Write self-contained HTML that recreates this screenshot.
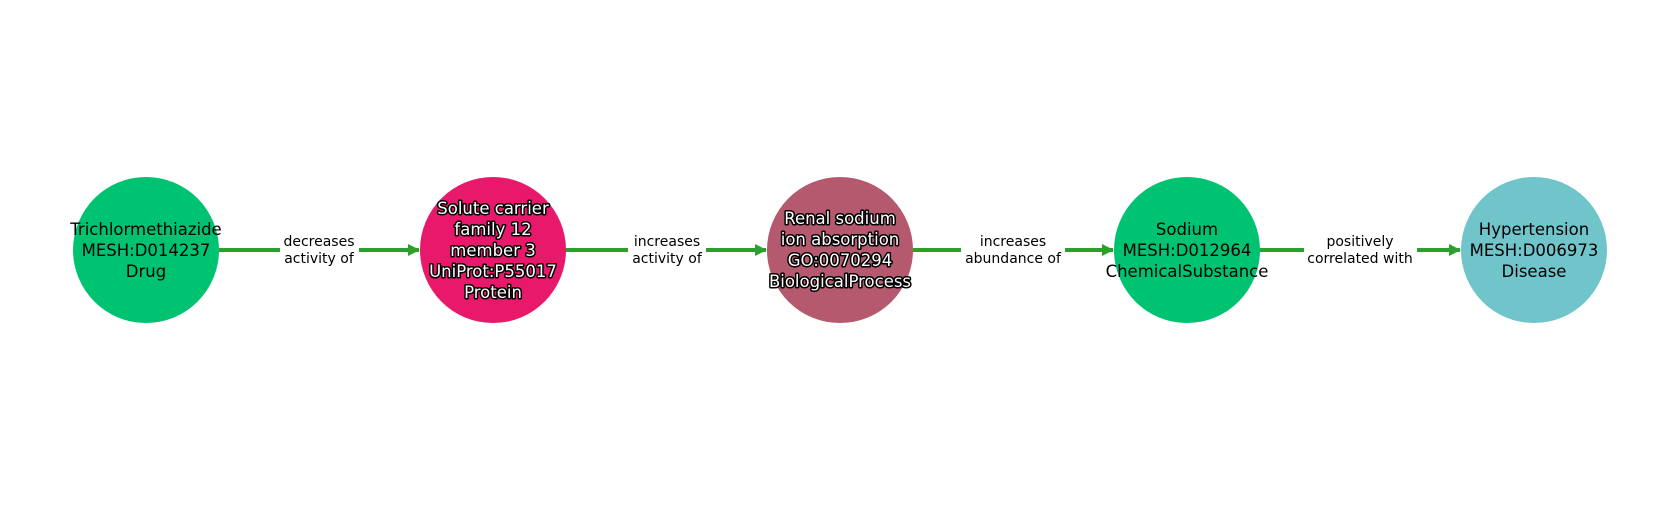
<!DOCTYPE html>
<html><head><meta charset="utf-8"><style>html,body{margin:0;padding:0;background:#fff}</style></head>
<body>
<svg width="1680" height="500" xmlns="http://www.w3.org/2000/svg" font-family="DejaVu Sans, sans-serif">
<defs><marker id="a" markerWidth="12" markerHeight="12" refX="11" refY="6" orient="auto" markerUnits="userSpaceOnUse"><path d="M0,0 L12,6 L0,12 z" fill="#2ca02c"/></marker></defs>
<g stroke="#2ca02c" stroke-width="4" marker-end="url(#a)">
<line x1="219" y1="250" x2="419" y2="250"/>
<line x1="566" y1="250" x2="766" y2="250"/>
<line x1="913" y1="250" x2="1113" y2="250"/>
<line x1="1260" y1="250" x2="1460" y2="250"/>
</g>
<g fill="#fff">
<rect x="280" y="232" width="79" height="36"/>
<rect x="628" y="232" width="78" height="36"/>
<rect x="961" y="232" width="104" height="36"/>
<rect x="1304" y="232" width="113" height="36"/>
</g>
<g font-size="14" text-anchor="middle" fill="#000">
<text x="319" y="246">decreases</text><text x="319" y="263">activity of</text>
<text x="667" y="246">increases</text><text x="667" y="263">activity of</text>
<text x="1013" y="246">increases</text><text x="1013" y="263">abundance of</text>
<text x="1360" y="246">positively</text><text x="1360" y="263">correlated with</text>
</g>
<circle cx="146" cy="250" r="73" fill="#00c371"/>
<circle cx="493" cy="250" r="73" fill="#e8196a"/>
<circle cx="840" cy="250" r="73" fill="#b5596e"/>
<circle cx="1187" cy="250" r="73" fill="#00c371"/>
<circle cx="1534" cy="250" r="73" fill="#70c5ca"/>
<g font-size="16.5" text-anchor="middle" fill="#000">
<text x="146" y="235">Trichlormethiazide</text><text x="146" y="256">MESH:D014237</text><text x="146" y="277">Drug</text>
<text x="1187" y="235">Sodium</text><text x="1187" y="256">MESH:D012964</text><text x="1187" y="277">ChemicalSubstance</text>
<text x="1534" y="235">Hypertension</text><text x="1534" y="256">MESH:D006973</text><text x="1534" y="277">Disease</text>
</g>
<g font-size="16.5" text-anchor="middle" fill="#fff" stroke="#000" stroke-width="3" paint-order="stroke" stroke-linejoin="round">
<text x="493" y="214">Solute carrier</text><text x="493" y="235">family 12</text><text x="493" y="256">member 3</text><text x="493" y="277">UniProt:P55017</text><text x="493" y="298">Protein</text>
<text x="840" y="224">Renal sodium</text><text x="840" y="245">ion absorption</text><text x="840" y="266">GO:0070294</text><text x="840" y="287">BiologicalProcess</text>
</g>
</svg>
</body></html>
